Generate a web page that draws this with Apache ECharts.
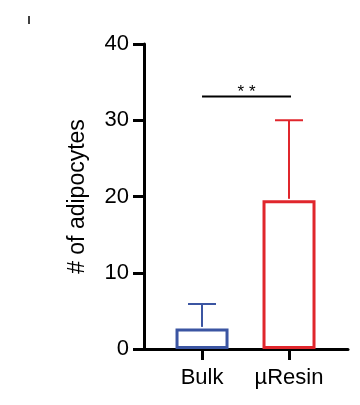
<!DOCTYPE html>
<html>
<head>
<meta charset="utf-8">
<script src="https://cdn.jsdelivr.net/npm/echarts@6/dist/echarts.min.js"></script>
<style>html,body{margin:0;padding:0;background:#fff}#c{width:360px;height:405px}</style>
</head>
<body>
<div id="c"></div>
<script>
var categories = ['Bulk', 'µResin'];
var means = [2.7, 19.5];
var errorsUp = [5.9, 30.0];
var colors = ['#3B55A2', '#E0262C'];
var sigLevel = 33.1;
var sigText = '* *';
var yName = '# of adipocytes';

var chart = echarts.init(document.getElementById('c'), null, {renderer: 'canvas'});
var font = "'Liberation Sans', Arial, sans-serif";
var catIdx = categories.map(function (c, i) { return i; });

var option = {
  animation: false,
  backgroundColor: '#fff',
  grid: {left: 144, right: 12, top: 44, bottom: 56, containLabel: false},
  xAxis: {
    type: 'value', min: -0.667, max: 1.678,
    splitLine: {show: false},
    axisLine: {show: true, onZero: false, lineStyle: {color: '#000', width: 3}},
    axisTick: {show: true, customValues: catIdx, length: 11, lineStyle: {color: '#000', width: 3}},
    axisLabel: {customValues: catIdx, formatter: function (v) { return categories[Math.round(v)]; },
      color: '#000', fontSize: 22, fontFamily: font, margin: 18}
  },
  yAxis: {
    type: 'value', min: 0, max: 40, interval: 10,
    name: yName, nameLocation: 'middle', nameGap: 55, nameRotate: 90,
    nameTextStyle: {color: '#000', fontSize: 23, fontFamily: font},
    splitLine: {show: false},
    axisLine: {show: true, onZero: false, lineStyle: {color: '#000', width: 3}},
    axisTick: {show: true, length: 11, lineStyle: {color: '#000', width: 3}},
    axisLabel: {color: '#000', fontSize: 22, fontFamily: font, margin: 15}
  },
  graphic: [{type: 'line', shape: {x1: 29, y1: 16, x2: 29, y2: 24}, style: {stroke: '#000', lineWidth: 1.5}}],
  series: [
    {
      type: 'bar', barWidth: 53,
      data: means.map(function (m, i) {
        return {value: [i, m], itemStyle: {color: '#fff', borderColor: colors[i], borderWidth: 3}};
      }),
      z: 2
    },
    {
      type: 'custom',
      data: means.map(function (m, i) { return [i, m, errorsUp[i]]; }),
      renderItem: function (params, api) {
        var i = api.value(0);
        var p0 = api.coord([i, api.value(1)]);
        var p1 = api.coord([i, api.value(2)]);
        var c = colors[params.dataIndex];
        return {type: 'group', children: [
          {type: 'line', shape: {x1: p0[0], y1: p0[1] - 1.5, x2: p1[0], y2: p1[1]}, style: {stroke: c, lineWidth: 2}},
          {type: 'line', shape: {x1: p1[0] - 14, y1: p1[1], x2: p1[0] + 14, y2: p1[1]}, style: {stroke: c, lineWidth: 2}}
        ]};
      },
      z: 3
    },
    {
      type: 'custom',
      data: [[0, 1, sigLevel]],
      renderItem: function (params, api) {
        var a = api.coord([api.value(0), api.value(2)]);
        var b = api.coord([api.value(1), api.value(2)]);
        return {type: 'group', children: [
          {type: 'line', shape: {x1: a[0], y1: a[1], x2: b[0] + 2, y2: b[1]}, style: {stroke: '#000', lineWidth: 2}},
          {type: 'text', x: (a[0] + b[0]) / 2 + 1, y: a[1] + 4,
            style: {text: sigText, fill: '#000', font: '17px ' + font, textAlign: 'center', textVerticalAlign: 'bottom'}}
        ]};
      },
      z: 3
    }
  ]
};
chart.setOption(option);
</script>
</body>
</html>
